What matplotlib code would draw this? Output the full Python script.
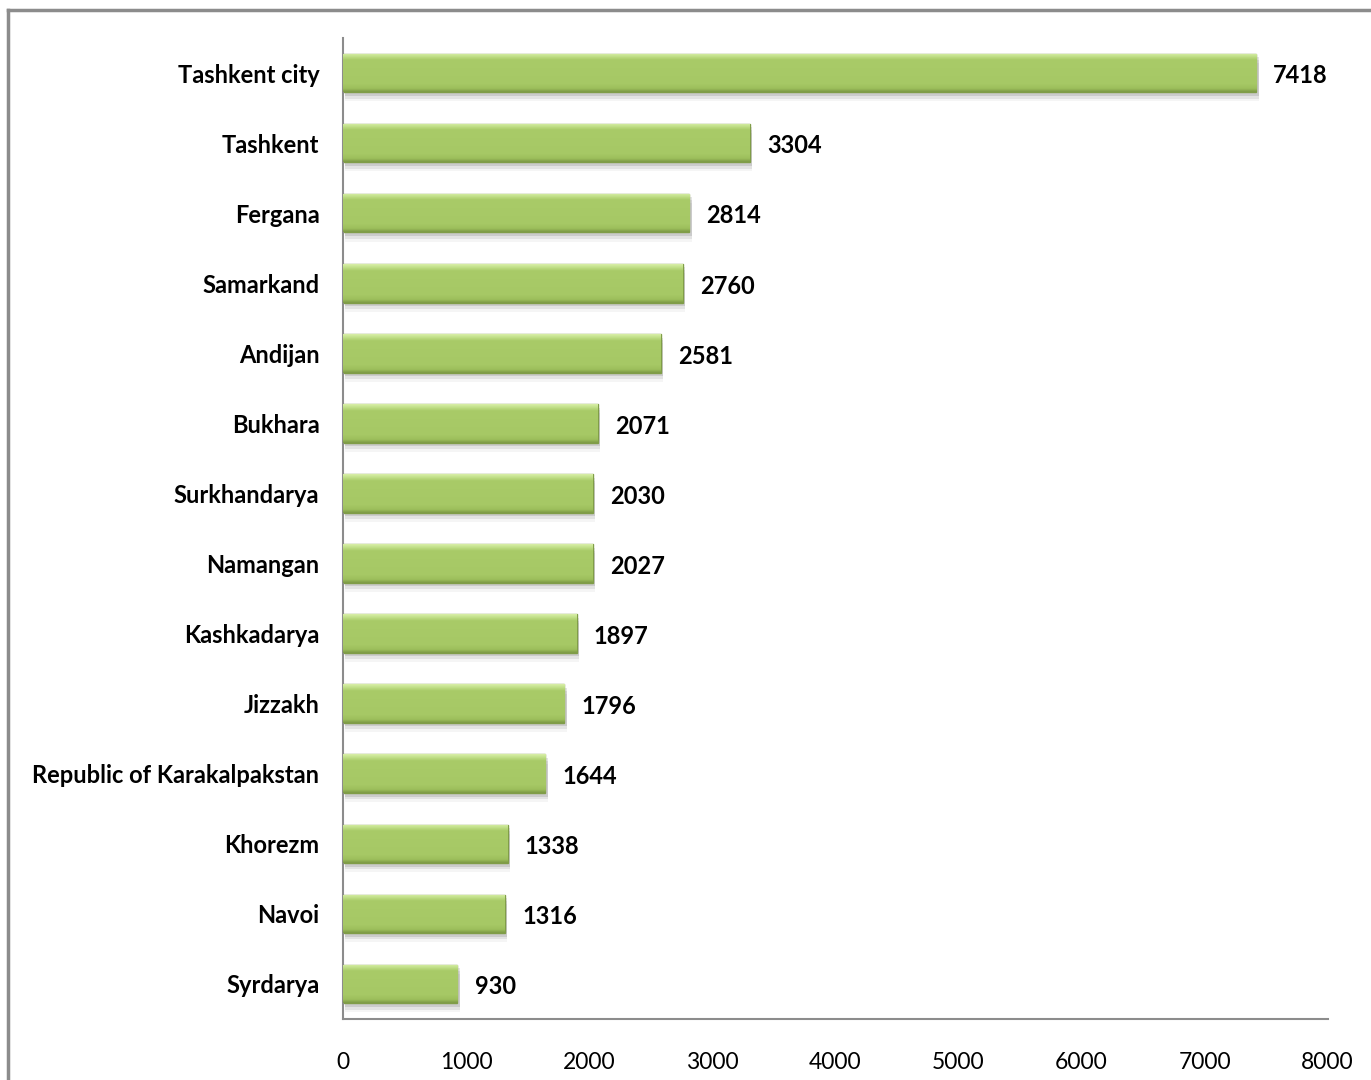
import matplotlib.pyplot as plt
import numpy as np
from matplotlib.colors import LinearSegmentedColormap
from matplotlib.lines import Line2D

# data
regions = ['Tashkent city', 'Tashkent', 'Fergana', 'Samarkand', 'Andijan', 'Bukhara',
           'Surkhandarya', 'Namangan', 'Kashkadarya', 'Jizzakh',
           'Republic of Karakalpakstan', 'Khorezm', 'Navoi', 'Syrdarya']
values = [7418, 3304, 2814, 2760, 2581, 2071, 2030, 2027, 1897, 1796, 1644, 1338, 1316, 930]
xticks = [0, 1000, 2000, 3000, 4000, 5000, 6000, 7000, 8000]

plt.rcParams['font.family'] = ['Lato', 'DejaVu Sans']

fig = plt.figure(figsize=(13.71, 10.8), dpi=100)
ax = fig.add_axes([0.2502, 0.0565, 0.7182, 0.9083])

y = np.arange(len(regions))
h = 0.55

# soft shadow under the bars
for k, a in [(0.05, 0.10), (0.09, 0.07), (0.13, 0.04)]:
    ax.barh(y + k, values, height=h, left=20, color='#000000', alpha=a, zorder=1, linewidth=0)
bars = ax.barh(y, values, height=h, color='#A6C865', edgecolor='#809D48', linewidth=1.0, zorder=2)

# gradient on each bar: light top edge, flat middle, darker bottom edge
grad = np.linspace(0, 1, 40).reshape(-1, 1)
cmap = LinearSegmentedColormap.from_list('g', [(0.0, '#D6EDA4'), (0.07, '#C2E08A'),
                                               (0.16, '#A9CB68'), (0.8, '#A6C865'),
                                               (0.92, '#9CBE5B'), (1.0, '#809D48')])
for b in bars:
    x0, y0 = b.get_x(), b.get_y()
    w, hh = b.get_width(), b.get_height()
    im = ax.imshow(grad, cmap=cmap, aspect='auto', extent=[x0, x0 + w, y0 + hh, y0],
                   origin='upper', zorder=3, interpolation='bilinear')
    im.set_clip_path(b)

for yi, v in zip(y, values):
    ax.text(v + 140, yi + 0.04, str(v), va='center', ha='left', fontsize=17,
            fontweight='bold', color='#000000', zorder=4)

ax.set_xlim(0, 8000)
ax.set_ylim(len(regions) - 0.5, -0.5)
ax.set_xticks(xticks)
ax.set_xticklabels([str(t) for t in xticks], fontsize=16.5)
ax.set_yticks(y)
ax.set_yticklabels(regions, fontsize=17, fontweight='bold')
ax.tick_params(axis='both', length=0)
ax.tick_params(axis='x', pad=24)
ax.tick_params(axis='y', pad=17)

for s in ['top', 'right']:
    ax.spines[s].set_visible(False)
for s in ['left', 'bottom']:
    ax.spines[s].set_color('#8C8C8C')
    ax.spines[s].set_linewidth(1.5)

# outer chart border (top and left visible)
fig.add_artist(Line2D([8 / 1371, 8 / 1371], [0, 1 - 10 / 1080], transform=fig.transFigure,
                      color='#8C8C8C', linewidth=2.5))
fig.add_artist(Line2D([8 / 1371, 1], [1 - 10 / 1080, 1 - 10 / 1080], transform=fig.transFigure,
                      color='#8C8C8C', linewidth=2.5))

fig.savefig('out.png', dpi=100)
